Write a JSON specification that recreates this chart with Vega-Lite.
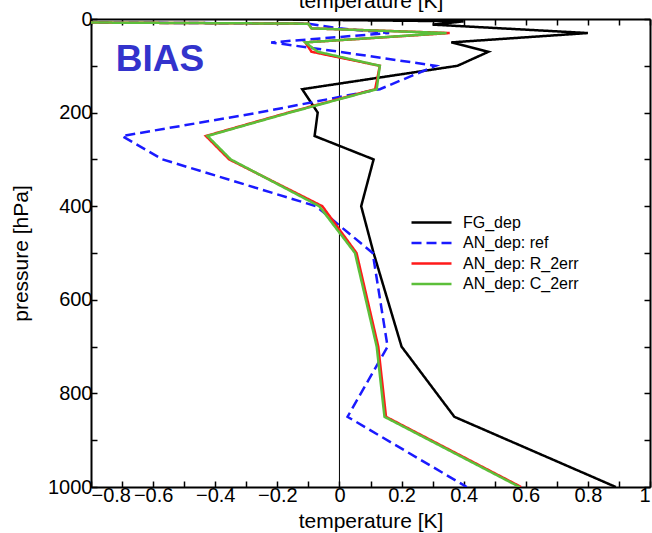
{
  "$schema": "https://vega.github.io/schema/vega-lite/v6.json",
  "width": 559,
  "height": 468,
  "autosize": {"type": "none"},
  "padding": {"left": 91, "top": 19, "right": 2, "bottom": 46},
  "background": "white",
  "config": {"view": {"stroke": null}, "font": "Liberation Sans"},
  "datasets": {
    "profiles": [
      {"series": "FG_dep", "p": 1, "T": -0.2},
      {"series": "FG_dep", "p": 5, "T": 0.4},
      {"series": "FG_dep", "p": 12, "T": 0.3},
      {"series": "FG_dep", "p": 30, "T": 0.8},
      {"series": "FG_dep", "p": 50, "T": 0.36},
      {"series": "FG_dep", "p": 70, "T": 0.48},
      {"series": "FG_dep", "p": 100, "T": 0.38},
      {"series": "FG_dep", "p": 150, "T": -0.12},
      {"series": "FG_dep", "p": 200, "T": -0.07},
      {"series": "FG_dep", "p": 250, "T": -0.08},
      {"series": "FG_dep", "p": 300, "T": 0.11},
      {"series": "FG_dep", "p": 400, "T": 0.07},
      {"series": "FG_dep", "p": 500, "T": 0.11},
      {"series": "FG_dep", "p": 700, "T": 0.2},
      {"series": "FG_dep", "p": 850, "T": 0.37},
      {"series": "FG_dep", "p": 1000, "T": 0.89},
      {"series": "AN_dep: ref", "p": 5, "T": -1.5},
      {"series": "AN_dep: ref", "p": 10, "T": -0.1},
      {"series": "AN_dep: ref", "p": 20, "T": 0.0},
      {"series": "AN_dep: ref", "p": 30, "T": 0.16},
      {"series": "AN_dep: ref", "p": 50, "T": -0.22},
      {"series": "AN_dep: ref", "p": 70, "T": 0.0},
      {"series": "AN_dep: ref", "p": 100, "T": 0.31},
      {"series": "AN_dep: ref", "p": 150, "T": 0.13},
      {"series": "AN_dep: ref", "p": 200, "T": -0.26},
      {"series": "AN_dep: ref", "p": 250, "T": -0.7},
      {"series": "AN_dep: ref", "p": 300, "T": -0.57},
      {"series": "AN_dep: ref", "p": 400, "T": -0.075},
      {"series": "AN_dep: ref", "p": 500, "T": 0.107},
      {"series": "AN_dep: ref", "p": 700, "T": 0.155},
      {"series": "AN_dep: ref", "p": 850, "T": 0.026},
      {"series": "AN_dep: ref", "p": 1000, "T": 0.41},
      {"series": "AN_dep: R_2err", "p": 5, "T": -1.5},
      {"series": "AN_dep: R_2err", "p": 10, "T": -0.1},
      {"series": "AN_dep: R_2err", "p": 20, "T": -0.09},
      {"series": "AN_dep: R_2err", "p": 30, "T": 0.355},
      {"series": "AN_dep: R_2err", "p": 50, "T": -0.11},
      {"series": "AN_dep: R_2err", "p": 70, "T": -0.09},
      {"series": "AN_dep: R_2err", "p": 100, "T": 0.13},
      {"series": "AN_dep: R_2err", "p": 150, "T": 0.115},
      {"series": "AN_dep: R_2err", "p": 200, "T": -0.165},
      {"series": "AN_dep: R_2err", "p": 250, "T": -0.43},
      {"series": "AN_dep: R_2err", "p": 300, "T": -0.355},
      {"series": "AN_dep: R_2err", "p": 400, "T": -0.055},
      {"series": "AN_dep: R_2err", "p": 500, "T": 0.055},
      {"series": "AN_dep: R_2err", "p": 700, "T": 0.125},
      {"series": "AN_dep: R_2err", "p": 850, "T": 0.15},
      {"series": "AN_dep: R_2err", "p": 1000, "T": 0.585},
      {"series": "AN_dep: C_2err", "p": 5, "T": -1.5},
      {"series": "AN_dep: C_2err", "p": 10, "T": -0.1},
      {"series": "AN_dep: C_2err", "p": 20, "T": -0.09},
      {"series": "AN_dep: C_2err", "p": 30, "T": 0.345},
      {"series": "AN_dep: C_2err", "p": 50, "T": -0.11},
      {"series": "AN_dep: C_2err", "p": 70, "T": -0.07},
      {"series": "AN_dep: C_2err", "p": 100, "T": 0.13},
      {"series": "AN_dep: C_2err", "p": 150, "T": 0.12},
      {"series": "AN_dep: C_2err", "p": 200, "T": -0.16},
      {"series": "AN_dep: C_2err", "p": 250, "T": -0.425},
      {"series": "AN_dep: C_2err", "p": 300, "T": -0.35},
      {"series": "AN_dep: C_2err", "p": 400, "T": -0.065},
      {"series": "AN_dep: C_2err", "p": 500, "T": 0.05},
      {"series": "AN_dep: C_2err", "p": 700, "T": 0.12},
      {"series": "AN_dep: C_2err", "p": 850, "T": 0.145},
      {"series": "AN_dep: C_2err", "p": 1000, "T": 0.58}
    ],
    "label": [{"text": "BIAS", "T": -0.72, "p": 88}],
    "zero": [{"T": 0}]
  },
  "resolve": {"axis": {"x": "independent", "y": "independent"}},
  "layer": [
    {
      "data": {"name": "zero"},
      "mark": {"type": "rule", "color": "black", "strokeWidth": 1},
      "encoding": {
        "x": {"field": "T", "type": "quantitative", "scale": {"domain": [-0.8, 1], "nice": false, "zero": false}, "axis": null}
      }
    },
    {
      "data": {"name": "profiles"},
      "mark": {"type": "line", "clip": true, "strokeJoin": "miter"},
      "encoding": {
        "x": {
          "field": "T", "type": "quantitative",
          "scale": {"domain": [-0.8, 1], "nice": false, "zero": false},
          "axis": {
            "orient": "bottom",
            "values": [-0.8, -0.7, -0.6, -0.5, -0.4, -0.3, -0.2, -0.1, 0, 0.1, 0.2, 0.3, 0.4, 0.5, 0.6, 0.7, 0.8, 0.9, 1],
            "format": "~g",
            "labelExpr": "abs(round(datum.value*10)) % 2 == 0 ? datum.label : ''",
            "tickSize": -6, "tickWidth": 1.5, "tickColor": "black",
            "domainColor": "black", "domainWidth": 2,
            "labelFontSize": 20, "labelColor": "black", "labelPadding": 4,
            "grid": false,
            "title": "temperature [K]", "titleFontSize": 21, "titleFontWeight": "normal", "titleColor": "black",
            "titleBaseline": "alphabetic", "titleY": 40
          }
        },
        "y": {
          "field": "p", "type": "quantitative",
          "scale": {"domain": [0, 1000], "reverse": true, "nice": false, "zero": false},
          "axis": {
            "orient": "left",
            "values": [0, 100, 200, 300, 400, 500, 600, 700, 800, 900, 1000],
            "format": "d",
            "labelExpr": "datum.value % 200 == 0 ? datum.label : ''",
            "tickSize": -6, "tickWidth": 1.5, "tickColor": "black",
            "domainColor": "black", "domainWidth": 2,
            "labelFontSize": 20, "labelColor": "black", "labelPadding": 5,
            "grid": false,
            "title": "pressure [hPa]", "titleFontSize": 21, "titleFontWeight": "normal", "titleColor": "black",
            "titleX": -60
          }
        },
        "order": {"field": "p", "type": "quantitative"},
        "color": {
          "field": "series", "type": "nominal",
          "scale": {"domain": ["FG_dep", "AN_dep: ref", "AN_dep: R_2err", "AN_dep: C_2err"], "range": ["#000000", "#1a1aff", "#ff1a1a", "#5cbf3a"]},
          "legend": {
            "orient": "none", "legendX": 329, "legendY": 192, "title": null,
            "symbolType": "M-2,0H2", "symbolSize": 400, "symbolStrokeWidth": 3,
            "labelFontSize": 16, "labelColor": "black", "labelOffset": 20, "rowPadding": 0.5
          }
        },
        "strokeDash": {
          "field": "series", "type": "nominal",
          "scale": {"domain": ["FG_dep", "AN_dep: ref", "AN_dep: R_2err", "AN_dep: C_2err"], "range": [[1, 0], [10, 5], [1, 0], [1, 0]]},
          "legend": {
            "orient": "none", "legendX": 329, "legendY": 192, "title": null,
            "symbolType": "M-2,0H2", "symbolSize": 400, "symbolStrokeWidth": 3,
            "labelFontSize": 16, "labelColor": "black", "labelOffset": 20, "rowPadding": 0.5
          }
        },
        "strokeWidth": {
          "field": "series", "type": "nominal",
          "scale": {"domain": ["FG_dep", "AN_dep: ref", "AN_dep: R_2err", "AN_dep: C_2err"], "range": [2.5, 2.5, 2.5, 3]},
          "legend": null
        }
      }
    },
    {
      "data": {"name": "label"},
      "mark": {"type": "text", "align": "left", "baseline": "middle", "fontSize": 37, "fontWeight": "bold", "color": "#3333cc", "font": "Liberation Sans"},
      "encoding": {
        "text": {"field": "text"},
        "x": {
          "field": "T", "type": "quantitative",
          "scale": {"domain": [-0.8, 1], "nice": false, "zero": false},
          "axis": {
            "orient": "top",
            "values": [-0.8, -0.7, -0.6, -0.5, -0.4, -0.3, -0.2, -0.1, 0, 0.1, 0.2, 0.3, 0.4, 0.5, 0.6, 0.7, 0.8, 0.9, 1],
            "labels": false,
            "tickSize": -6, "tickWidth": 1.5, "tickColor": "black",
            "domainColor": "black", "domainWidth": 2, "grid": false,
            "title": "temperature [K]", "titleFontSize": 21, "titleFontWeight": "normal", "titleColor": "black",
            "titleBaseline": "alphabetic", "titleY": -12
          }
        },
        "y": {
          "field": "p", "type": "quantitative",
          "scale": {"domain": [0, 1000], "reverse": true, "nice": false, "zero": false},
          "axis": {
            "orient": "right",
            "values": [0, 100, 200, 300, 400, 500, 600, 700, 800, 900, 1000],
            "labels": false,
            "tickSize": -6, "tickWidth": 1.5, "tickColor": "black",
            "domainColor": "black", "domainWidth": 2, "grid": false,
            "title": null
          }
        }
      }
    }
  ]
}
